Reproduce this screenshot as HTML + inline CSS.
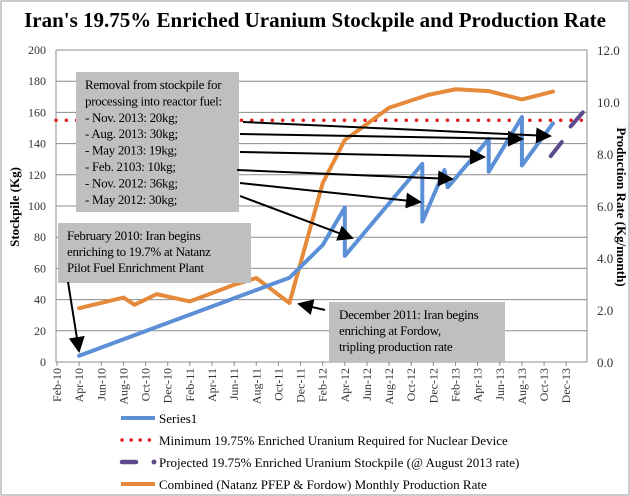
<!DOCTYPE html>
<html><head><meta charset="utf-8"><style>
body{margin:0;background:#fff;width:630px;height:496px;overflow:hidden}
svg{display:block;font-family:"Liberation Serif",serif}
</style></head><body>
<svg id="chart" width="630" height="496">
<defs><marker id="ah" markerWidth="8" markerHeight="8" refX="7" refY="4" orient="auto"><path d="M0,0 L8,4 L0,8 z" fill="#000"/></marker></defs>
<rect x="1" y="1" width="628" height="494" fill="#fff" stroke="#999"/>
<text x="315" y="27" text-anchor="middle" font-size="21" font-weight="bold">Iran's 19.75% Enriched Uranium Stockpile and Production Rate</text>
<g id="grid"></g><g id="axes"></g><g id="series"></g>
<text transform="translate(19,207) rotate(-90)" text-anchor="middle" font-size="13" font-weight="bold">Stockpile (Kg)</text>
<text transform="translate(617,207) rotate(90)" text-anchor="middle" font-size="13" font-weight="bold">Production Rate (Kg/month)</text>
<g id="annot" font-size="13" letter-spacing="-0.3">
<rect x="76" y="72" width="163" height="140" fill="#bfbfbf"/>
<text x="85" y="89"><tspan x="85">Removal from stockpile for</tspan><tspan x="85" dy="16.4">processing into reactor fuel:</tspan><tspan x="85" dy="16.4">-  Nov. 2013: 20kg;</tspan><tspan x="85" dy="16.4">- Aug. 2013: 30kg;</tspan><tspan x="85" dy="16.4">- May 2013: 19kg;</tspan><tspan x="85" dy="16.4">- Feb. 2103: 10kg;</tspan><tspan x="85" dy="16.4">- Nov. 2012: 36kg;</tspan><tspan x="85" dy="16.4">- May 2012: 30kg;</tspan></text>
<rect x="58" y="223" width="193" height="60" fill="#bfbfbf"/>
<text><tspan x="67" y="240">February 2010: Iran begins</tspan><tspan x="67" dy="16">enriching to 19.7% at Natanz</tspan><tspan x="67" dy="16">Pilot Fuel Enrichment Plant</tspan></text>
<rect x="329" y="302" width="176" height="60" fill="#bfbfbf"/>
<text><tspan x="339" y="319">December 2011: Iran begins</tspan><tspan x="339" dy="16">enriching at Fordow,</tspan><tspan x="339" dy="16">tripling production rate</tspan></text>
<g stroke="#000" stroke-width="2" marker-end="url(#ah)">
<line x1="243" y1="122" x2="550" y2="136"/><line x1="240" y1="134" x2="522" y2="139"/>
<line x1="240" y1="152" x2="484" y2="157"/><line x1="237" y1="170" x2="452" y2="179"/>
<line x1="240" y1="183" x2="420" y2="202"/><line x1="240" y1="196" x2="352" y2="238"/>
<line x1="68" y1="282" x2="79" y2="351"/><line x1="325" y1="310" x2="299" y2="304"/>
</g></g>
<g id="legend" font-size="13">
<g><line x1="121" y1="418" x2="155" y2="418" stroke="#5b8fd6" stroke-width="4"/><text x="159" y="423">Series1</text></g>
<g><line x1="122" y1="440" x2="152" y2="440" stroke="#e02020" stroke-width="3.5" stroke-dasharray="0.1 9" stroke-linecap="round"/><text x="159" y="445">Minimum 19.75% Enriched Uranium Required for Nuclear Device</text></g>
<g><line x1="122" y1="462" x2="136" y2="462" stroke="#5e4a8a" stroke-width="4.5" stroke-linecap="round"/><circle cx="154" cy="462" r="2.5" fill="#5e4a8a"/><text x="159" y="467">Projected 19.75% Enriched Uranium Stockpile (@ August 2013 rate)</text></g>
<g><line x1="121" y1="484" x2="155" y2="484" stroke="#e48a3a" stroke-width="4"/><text x="159" y="489">Combined (Natanz PFEP &amp; Fordow) Monthly Production Rate</text></g>
</g>
</svg>
<script>
const tickLabels=["Feb-10","Apr-10","Jun-10","Aug-10","Oct-10","Dec-10","Feb-11","Apr-11","Jun-11","Aug-11","Oct-11","Dec-11","Feb-12","Apr-12","Jun-12","Aug-12","Oct-12","Dec-12","Feb-13","Apr-13","Jun-13","Aug-13","Oct-13","Dec-13"];
const leftTicks=[0,20,40,60,80,100,120,140,160,180,200];
const rightTicks=["0.0","2.0","4.0","6.0","8.0","10.0","12.0"];
// months since Feb-10
const stockMonths=[2,21,24,26,26,33,33,35,35.3,39,39,42,42,44.8];
const stockValues=[4,54,75,99,68,127,90,123,112,143,122,157,126,153];
const projMonths1=[44.6,45.6];const projValues1=[132,141];
const projMonths2=[46.4,47.5];const projValues2=[151,160];
const minRequired=155;
const rateMonths=[2,6,7,9,12,14,16,18,21,24,26,27.5,30,33.5,36,39,42,44.8];
const rateValues=[2.07,2.48,2.2,2.61,2.33,2.65,2.97,3.23,2.27,6.88,8.54,9.0,9.78,10.27,10.49,10.42,10.1,10.4];
const X0=57,DX=11.07,L=56,R=587,Y0=362,Y1=50;
const xs=m=>X0+m*DX, yL=v=>Y0-(v/200)*(Y0-Y1), yR=v=>Y0-(v/12)*(Y0-Y1);
const NS="http://www.w3.org/2000/svg";
function mk(t,a,p){const e=document.createElementNS(NS,t);for(const k in a)e.setAttribute(k,a[k]);p.appendChild(e);return e;}
const grid=document.getElementById('grid'),axes=document.getElementById('axes'),ser=document.getElementById('series');
leftTicks.forEach(v=>{const y=yL(v);
const g=mk('line',{x1:L,x2:R,y1:y,y2:y,stroke:'#8c8c8c','stroke-width':1},grid);


const t=mk('text',{x:L-10,y:y+4,'text-anchor':'end','font-size':12,fill:'#333'},axes);t.textContent=v;

});
rightTicks.forEach((v,i)=>{const y=Y0-i*(Y0-Y1)/6;
const t=mk('text',{x:R+10,y:y+5,'font-size':13,fill:'#333'},axes);t.textContent=v;

});
mk('line',{x1:L,x2:L,y1:Y1,y2:Y0,stroke:'#8c8c8c'},axes);
mk('line',{x1:R,x2:R,y1:Y1,y2:Y0,stroke:'#8c8c8c'},axes);
tickLabels.forEach((lab,i)=>{const x=xs(i*2);
mk('line',{x1:x,x2:x,y1:Y0,y2:Y0+4,stroke:'#8c8c8c'},axes);
const t=mk('text',{transform:`translate(${x+4},${Y0+6}) rotate(-90)`,'text-anchor':'end','font-size':12,fill:'#333'},axes);t.textContent=lab;

});
const red=mk('line',{x1:L,x2:R,y1:yL(minRequired),y2:yL(minRequired),stroke:'#e02020','stroke-width':3.5,'stroke-dasharray':'0.1 10.2','stroke-linecap':'round'},ser);


function poly(ms,vs,f,col,w,name){const p=mk('polyline',{points:ms.map((m,i)=>xs(m)+','+f(vs[i])).join(' '),fill:'none',stroke:col,'stroke-width':w,'stroke-linejoin':'round','stroke-linecap':'round'},ser);

}
poly(rateMonths,rateValues,yR,'#e48a3a',4,'production-rate-line');
poly(stockMonths,stockValues,yL,'#5b8fd6',4,'stockpile-line');
poly(projMonths1,projValues1,yL,'#5e4a8a',4,'projected-stockpile-1');
poly(projMonths2,projValues2,yL,'#5e4a8a',4,'projected-stockpile-2');
</script>
</body></html>
